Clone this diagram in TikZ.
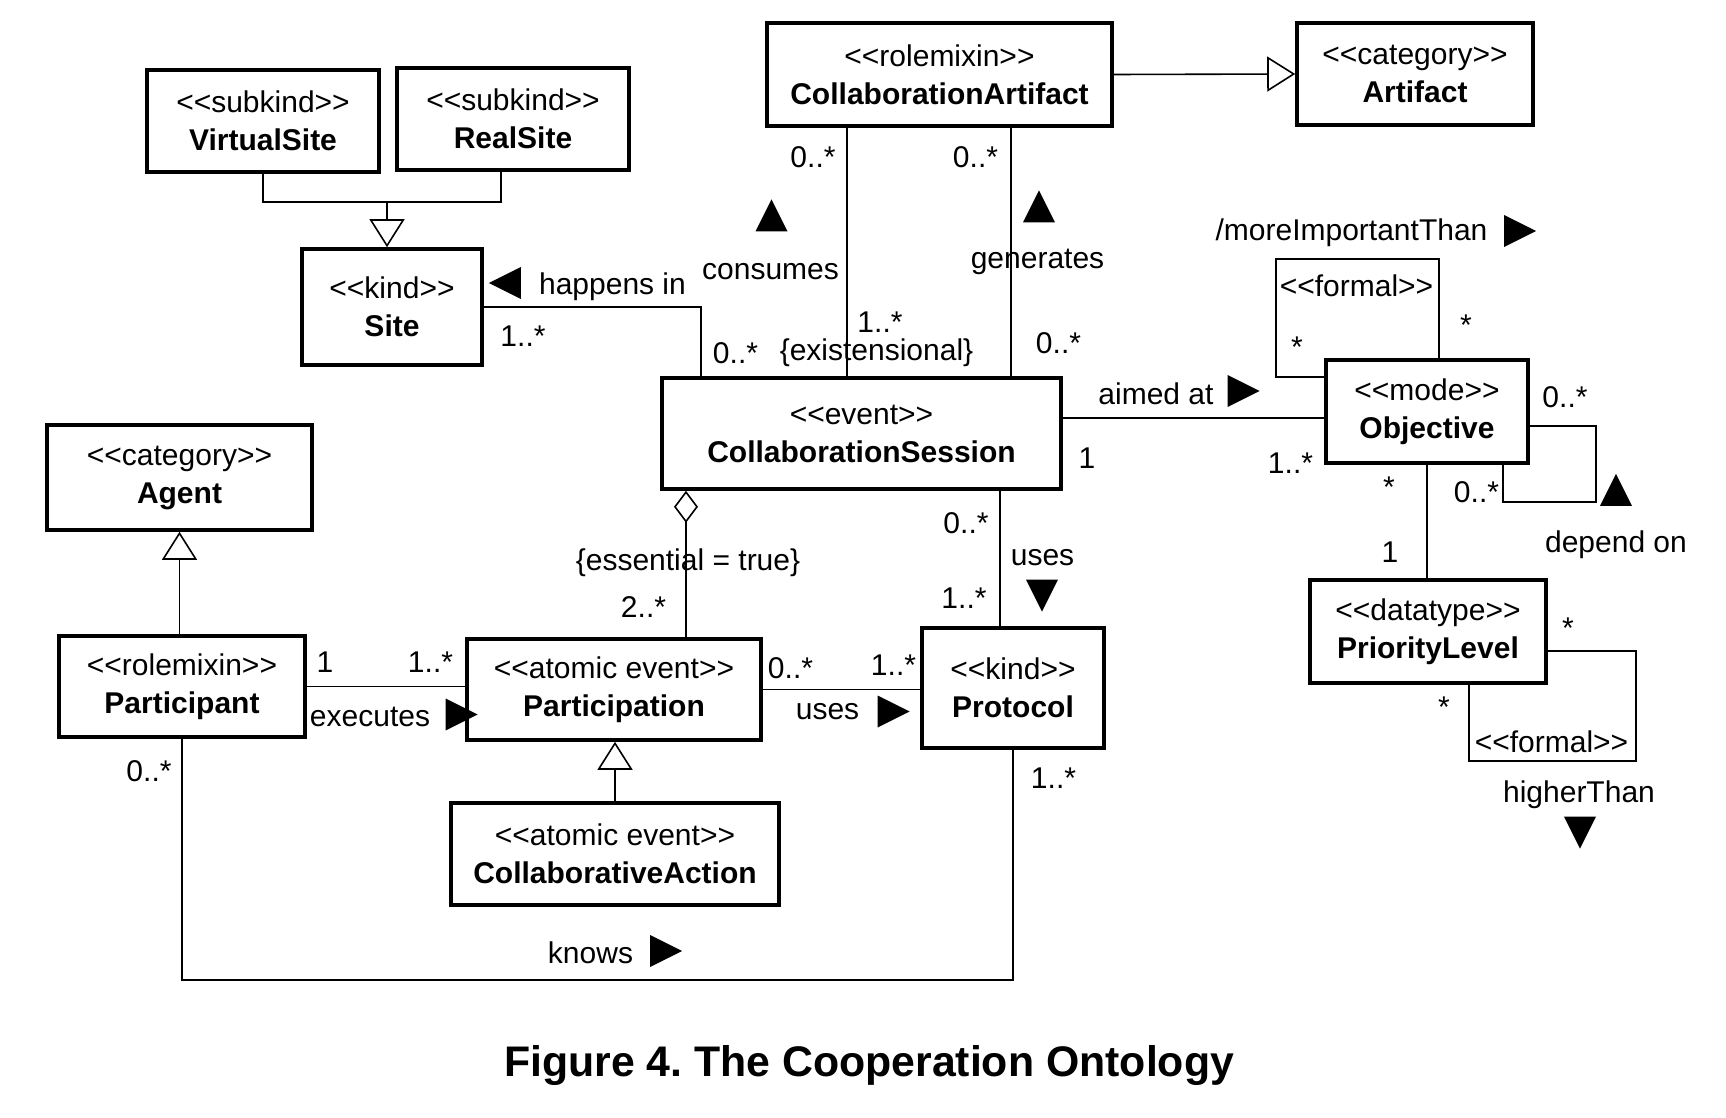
\documentclass[tikz,border=0pt]{standalone}
\usepackage{fontspec}
\setmainfont{Liberation Sans}
\usetikzlibrary{shapes.geometric, arrows.meta, positioning, calc}
\frenchspacing
\newcommand\umlfont{\fontsize{15}{19}\selectfont}
\newcommand\stereo[1]{\textless\kern0pt\textless#1\textgreater\kern0pt\textgreater}

\begin{document}
\begin{tikzpicture}[
    x=0.5pt, y=-0.5pt,
    umlclass/.style={rectangle, draw, line width=1.8pt, align=center, inner sep=0pt, font=\umlfont},
    mult/.style={inner sep=0pt, font=\umlfont},
    assoc/.style={line width=0.8pt},
    gen/.style={line width=0.8pt, -{Triangle[open, length=14pt, width=17.5pt]}},
    agg/.style={line width=0.8pt, {Diamond[open, length=16pt, width=12pt]}-},
    dirmark/.style={isosceles triangle, isosceles triangle stretches, fill=black, inner sep=0pt,
                    minimum width=16pt, minimum height=16pt}
]
    \useasboundingbox (0,0) rectangle (1726,1118);

    % Classes
    \node[umlclass, minimum width=116pt, minimum height=51pt] (vsite) at (263,121) {\stereo{subkind}\\\textbf{VirtualSite}};
    \node[umlclass, minimum width=116pt, minimum height=51pt] (rsite) at (513,119) {\stereo{subkind}\\\textbf{RealSite}};
    \node[umlclass, minimum width=90pt, minimum height=58pt] (site) at (392,307) {\stereo{kind}\\\textbf{Site}};
    \node[umlclass, minimum width=172.5pt, minimum height=51.5pt] (collart) at (939.5,74.5) {\stereo{rolemixin}\\\textbf{CollaborationArtifact}};
    \node[umlclass, minimum width=118pt, minimum height=51pt] (artifact) at (1415,74) {\stereo{category}\\\textbf{Artifact}};
    \node[umlclass, minimum width=199.5pt, minimum height=55.5pt] (session) at (861.5,433.5) {\stereo{event}\\\textbf{CollaborationSession}};
    \node[umlclass, minimum width=101pt, minimum height=51.5pt] (objective) at (1427,411.5) {\stereo{mode}\\\textbf{Objective}};
    \node[umlclass, minimum width=118pt, minimum height=51.5pt] (prio) at (1428,631.5) {\stereo{datatype}\\\textbf{PriorityLevel}};
    \node[umlclass, minimum width=132.5pt, minimum height=52.5pt] (agent) at (179.5,477.5) {\stereo{category}\\\textbf{Agent}};
    \node[umlclass, minimum width=123pt, minimum height=50.5pt] (participant) at (182,686.5) {\stereo{rolemixin}\\\textbf{Participant}};
    \node[umlclass, minimum width=147pt, minimum height=50.5pt] (participation) at (614,689.5) {\stereo{atomic event}\\\textbf{Participation}};
    \node[umlclass, minimum width=164pt, minimum height=51pt] (collaction) at (615,854) {\stereo{atomic event}\\\textbf{CollaborativeAction}};
    \node[umlclass, minimum width=91pt, minimum height=60pt] (protocol) at (1013,688) {\stereo{kind}\\\textbf{Protocol}};

    % Generalizations
    \coordinate (sitejoin) at (387,202);
    \draw[assoc] (vsite.south) |- (sitejoin) -| ([xshift=-6pt]rsite.south);
    \draw[gen] (sitejoin) -- (sitejoin |- site.north);
    \draw[gen] (collart.east) -- (artifact.west);
    \draw[gen] (participant.north -| agent.south) -- (agent.south);
    \draw[gen] (collaction.north) -- (collaction.north |- participation.south);

    % Associations
    \draw[assoc] (site.east) -| ([xshift=-80.25pt]session.north);
    \coordinate (consumesTop) at ([xshift=-46.25pt]collart.south);
    \draw[assoc] (consumesTop) -- (consumesTop |- session.north);
    \coordinate (generatesTop) at ([xshift=35.75pt]collart.south);
    \draw[assoc] (generatesTop) -- (generatesTop |- session.north);
    \coordinate (aimedStart) at ([yshift=7.75pt]session.east);
    \draw[assoc] (aimedStart) -- (aimedStart -| objective.west);
    \draw[assoc] ([yshift=17.25pt]objective.west) -- ++(-48,0) -- ++(0,-118) -| ([xshift=6pt]objective.north);
    \draw[assoc] ([yshift=-7.25pt]objective.east) -- ++(66,0) -- ++(0,76) -| ([xshift=38pt]objective.south);
    \draw[assoc] (objective.south) -- (objective.south |- prio.north);
    \draw[assoc] ([yshift=-9.75pt]prio.east) -- ++(88,0) -- ++(0,110) -| ([xshift=20.5pt]prio.south);
    \coordinate (usesTop) at ([xshift=69.25pt]session.south);
    \draw[assoc] (usesTop) -- (usesTop |- protocol.north);
    \coordinate (aggBottom) at ([xshift=36pt]participation.north);
    \draw[agg] (aggBottom |- session.south) -- (aggBottom);
    \draw[assoc] (participant.east) -- (participant.east -| participation.west);
    \draw[assoc] (participation.east) -- (participation.east -| protocol.west);
    \draw[assoc] (participant.south) -- ++(0,241) -| (protocol.south);

    % happens in
    \node[dirmark, shape border rotate=180] (happensMark) at (511,283) {};
    \node[mult] (happensTxt) at (612.5,287) {happens in};
    \node[mult] (happensSite) at (523,336) {1..*};
    \node[mult] (happensSession) at (735.5,353) {0..*};

    % consumes
    \node[mult] (consumesArt) at (813,157) {0..*};
    \node[dirmark, shape border rotate=90] (consumesMark) at (771.5,221.5) {};
    \node[mult] (consumesTxt) at (770.5,272) {consumes};
    \node[mult] (consumesSession) at (880,322) {1..*};
    \node[mult] (consumesProp) at (876.5,353) {\{existensional\}};

    % generates
    \node[mult] (generatesArt) at (975.5,157) {0..*};
    \node[dirmark, shape border rotate=90] (generatesMark) at (1039,212.5) {};
    \node[mult] (generatesTxt) at (1037.5,262) {generates};
    \node[mult] (generatesSession) at (1058.5,343) {0..*};

    % aimed at
    \node[mult] (aimedTxt) at (1156,394) {aimed at};
    \node[dirmark] (aimedMark) at (1237.5,391) {};
    \node[mult] (aimedSession) at (1087,458) {1};
    \node[mult] (aimedObjective) at (1290.5,463) {1..*};

    % moreImportantThan
    \node[mult] (moreTxt) at (1351.5,233) {/moreImportantThan};
    \node[dirmark] (moreMark) at (1514,231) {};
    \node[mult] (moreFormal) at (1356.5,286) {\stereo{formal}};
    \node[mult] (moreLeft) at (1297,347) {*};
    \node[mult] (moreRight) at (1466,325) {*};

    % depend on
    \node[mult] (dependTop) at (1565,397) {0..*};
    \node[mult] (dependBottom) at (1476.5,492) {0..*};
    \node[dirmark, shape border rotate=90] (dependMark) at (1616,496) {};
    \node[mult] (dependTxt) at (1616,545) {depend on};

    % objective - priority
    \node[mult] (prioObjective) at (1389,487) {*};
    \node[mult] (prioLevel) at (1390,552) {1};

    % higherThan
    \node[mult] (higherRight) at (1568,628) {*};
    \node[mult] (higherLeft) at (1444,707) {*};
    \node[mult] (higherFormal) at (1551.5,742) {\stereo{formal}};
    \node[mult] (higherTxt) at (1579,795) {higherThan};
    \node[dirmark, shape border rotate=270] (higherMark) at (1580,826.5) {};

    % session uses protocol
    \node[mult] (usesSession) at (966,523) {0..*};
    \node[mult] (usesTxt) at (1042.5,558) {uses};
    \node[dirmark, shape border rotate=270] (usesMark) at (1042,589.5) {};
    \node[mult] (usesProtocol) at (964,598) {1..*};

    % aggregation
    \node[mult] (aggProp) at (688,563) {\{essential = true\}};
    \node[mult] (aggMult) at (643.5,607) {2..*};

    % executes
    \node[mult] (execLeft) at (325,662) {1};
    \node[mult] (execRight) at (430.5,662) {1..*};
    \node[mult] (execTxt) at (370,717) {executes};
    \node[dirmark] (execMark) at (455.5,714.5) {};

    % participation uses protocol
    \node[mult] (partUsesLeft) at (790.5,668) {0..*};
    \node[mult] (partUsesRight) at (893.5,665) {1..*};
    \node[mult] (partUsesTxt) at (827.5,712) {uses};
    \node[dirmark] (partUsesMark) at (887.5,711.5) {};

    % knows
    \node[mult] (knowsParticipant) at (149,771) {0..*};
    \node[mult] (knowsProtocol) at (1053.5,778) {1..*};
    \node[mult] (knowsTxt) at (590.5,953) {knows};
    \node[dirmark] (knowsMark) at (660,951) {};

    % Caption
    \node[anchor=base, inner sep=0pt, font=\fontsize{21.4}{26}\selectfont\bfseries] (caption) at (869,1076) {Figure 4. The Cooperation Ontology};
\end{tikzpicture}
\end{document}
